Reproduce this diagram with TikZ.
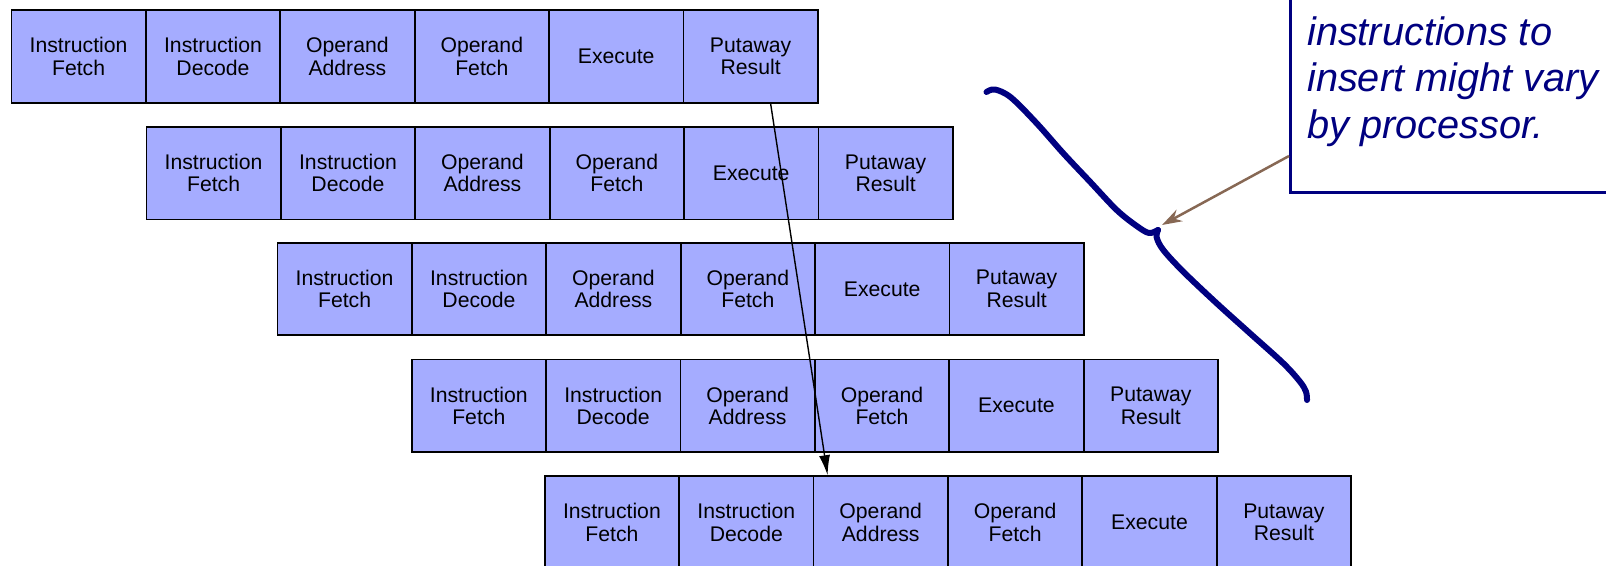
\documentclass[tikz,border=0pt]{standalone}
\usepackage{fontspec}
\setmainfont{Liberation Sans}
\usetikzlibrary{arrows.meta,calc}
\definecolor{cellfill}{RGB}{165,172,255}
\definecolor{navyblue}{RGB}{0,0,128}
\definecolor{notebrown}{RGB}{135,104,84}

\begin{document}
\begin{tikzpicture}[x=1pt,y=-1pt,
  stage/.style={draw=black, line width=1.8pt, fill=cellfill,
    minimum width=134.4pt, minimum height=92.5pt, inner sep=0pt,
    align=center, anchor=north west,
    font=\fontsize{21.2}{22.4}\selectfont},
  notetext/.style={anchor=base west, inner sep=0pt, text=navyblue,
    font=\fontsize{39.7}{46.7}\selectfont\itshape},
  brace/.style={draw=navyblue, line width=6pt, line cap=round, line join=round},
]
\useasboundingbox (0,0) rectangle (1606,565);
\clip (0,0) rectangle (1606,565);

% five overlapped pipeline rows, six stages each
\foreach \r/\lx/\ty in {1/10.5/9.2, 2/145.5/126, 3/276.5/241.7, 4/410.7/358.5, 5/543.8/475.2} {
  \foreach \c/\txt in {1/{Instruction\\Fetch}, 2/{Instruction\\Decode},
                       3/{Operand\\Address}, 4/{Operand\\Fetch},
                       5/{Execute}, 6/{Putaway\\Result}} {
    \node[stage] (r\r-\c) at ({\lx+(\c-1)*134.4}, \ty) {\txt};
  }
}

% dependency from the first result to the fifth operand address
\draw[line width=1.4pt, -{Latex[length=20pt,width=11pt]}]
  ($(r1-6.south)+(20,0)$) -- ($(r5-3.north west)+(15,0)$);

% note box
\node[draw=navyblue, line width=3pt, fill=white, anchor=south west,
      minimum width=360pt, minimum height=240pt, inner sep=0pt] (note) at (1289,194) {};
\node[notetext] (note1) at (1307,45) {instructions to};
\node[notetext] (note2) at (1307,91.7) {insert might vary};
\node[notetext] (note3) at (1307,138.4) {by processor.};

% hand-drawn brace
\coordinate (bracetip) at (1158,230);
\draw[brace] plot[smooth, tension=0.55] coordinates {
  (986.5,92) (995,89.5) (1011,97.5) (1036.7,123.3) (1063.3,153.3)
  (1090,181.7) (1116.7,210) (1136.7,226) (1149,233) (bracetip)};
\draw[brace] plot[smooth, tension=0.55] coordinates {
  (bracetip) (1156.7,237.5) (1163.3,250) (1183.3,271.7) (1216.7,303.3)
  (1250,333.3) (1283.3,363.3) (1300,381.7) (1306,391.7) (1307,400)};

% pointer from the note to the brace
\draw[notebrown, line width=2.5pt, -{Stealth[length=20pt,width=13pt]}]
  ($(note.south west)+(0,-38)$) -- ($(bracetip)+(4,-5)$);
\end{tikzpicture}
\end{document}
